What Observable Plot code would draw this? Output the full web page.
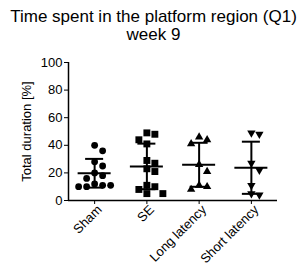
<!DOCTYPE html>
<html><head><meta charset="utf-8">
<script src="https://cdn.jsdelivr.net/npm/d3@7"></script>
<script src="https://cdn.jsdelivr.net/npm/@observablehq/plot@0.6"></script>
<style>
body{margin:0;background:#fff;font-family:"Liberation Sans",Arial,sans-serif;}
#title{width:307px;text-align:center;font-size:17px;line-height:18px;padding-top:8px;height:36px;color:#000;white-space:nowrap}
#chart svg{display:block}
</style></head><body>
<div id="title">Time spent in the platform region (Q1)<br>week 9</div>
<div id="chart"></div>
<script>
const categories = ["Sham", "SE", "Long latency", "Short latency"];
const shamValues = [40, 36, 28, 25, 20, 18, 16, 12, 11, 11, 10, 10];
const seValues = [49, 48, 44, 41, 29, 27, 23, 21, 11, 10, 8, 5, 5];
const longLatencyValues = [46, 44, 41, 26, 21, 11, 10, 8];
const shortLatencyValues = [49, 48, 27, 22, 11, 5, 4];
const yTicks = [0, 20, 40, 60, 80, 100];

const groups = [shamValues, seValues, longLatencyValues, shortLatencyValues];

// layout constants
const W = 307, H = 229, mL = 68, mR = 30, mT = 18, mB = 73;
const stepPx = (W - mL - mR) / 4;
const pxPerY = (H - mT - mB) / 100;
const slotPx = 8, collidePx = 7.5;

// simple column-scatter placement (swarm by slots)
const rows = [];
groups.forEach((vals, i) => {
  const placed = [];
  const sorted = vals.slice().sort((a, b) => b - a);
  for (const v of sorted) {
    let slot = 0;
    for (const s of [0, 1, -1, 2, -2, 3, -3]) {
      const hit = placed.some(p => p.slot === s && Math.abs(p.v - v) * pxPerY < collidePx);
      if (!hit) { slot = s; break; }
    }
    placed.push({v, slot});
    rows.push({i, v, off: slot * slotPx / stepPx});
  }
});
const stats = groups.map((vals, i) => ({i, mean: d3.mean(vals), sd: d3.deviation(vals)}));

const downTriangle = {
  draw(ctx, size) {
    const y = Math.sqrt(size / (Math.sqrt(3) * 3));
    ctx.moveTo(0, 2 * y);
    ctx.lineTo(-Math.sqrt(3) * y, -y);
    ctx.lineTo(Math.sqrt(3) * y, -y);
    ctx.closePath();
  }
};
const symbols = ["circle", "square", "triangle", downTriangle];
const radii = [3.4, 3.9, 3.1, 3.1];

const meanHalf = 16.5 / stepPx, capHalf = 9 / stepPx;
const xTicks = [0, 1, 2, 3];

const plot = Plot.plot({
  width: W, height: H, marginTop: mT, marginBottom: mB, marginLeft: mL, marginRight: mR,
  style: {fontFamily: "'Liberation Sans', Arial, sans-serif", fontSize: "13px", color: "#000", background: "#fff"},
  x: {domain: [-0.5, 3.5]},
  y: {domain: [0, 100], ticks: yTicks, tickSize: 4, tickPadding: 2, label: "Total duration [%]", labelAnchor: "center", labelOffset: 47, labelArrow: "none"},
  marks: [
    Plot.axisX({ticks: xTicks, tickSize: 4, tickFormat: () => "", label: null}),
    Plot.axisX({ticks: xTicks, tickSize: 0, tickPadding: 6, tickFormat: i => categories[i], tickRotate: -45, label: null, dx: 5, dy: 1}),
    Plot.ruleY([0], {strokeWidth: 1.5}),
    Plot.ruleX([-0.5], {strokeWidth: 1.5}),
    Plot.ruleX(stats, {x: "i", y1: d => d.mean - d.sd, y2: d => d.mean + d.sd, strokeWidth: 2}),
    Plot.ruleY(stats, {y: "mean", x1: d => d.i - meanHalf, x2: d => d.i + meanHalf, strokeWidth: 2}),
    Plot.ruleY(stats, {y: d => d.mean + d.sd, x1: d => d.i - capHalf, x2: d => d.i + capHalf, strokeWidth: 2}),
    Plot.ruleY(stats, {y: d => d.mean - d.sd, x1: d => d.i - capHalf, x2: d => d.i + capHalf, strokeWidth: 2}),
    ...symbols.map((sym, g) => Plot.dot(rows.filter(d => d.i === g), {x: d => d.i + d.off, y: "v", symbol: sym, r: radii[g], fill: "#000", stroke: "none"}))
  ]
});
document.getElementById("chart").appendChild(plot);
</script>
</body></html>
